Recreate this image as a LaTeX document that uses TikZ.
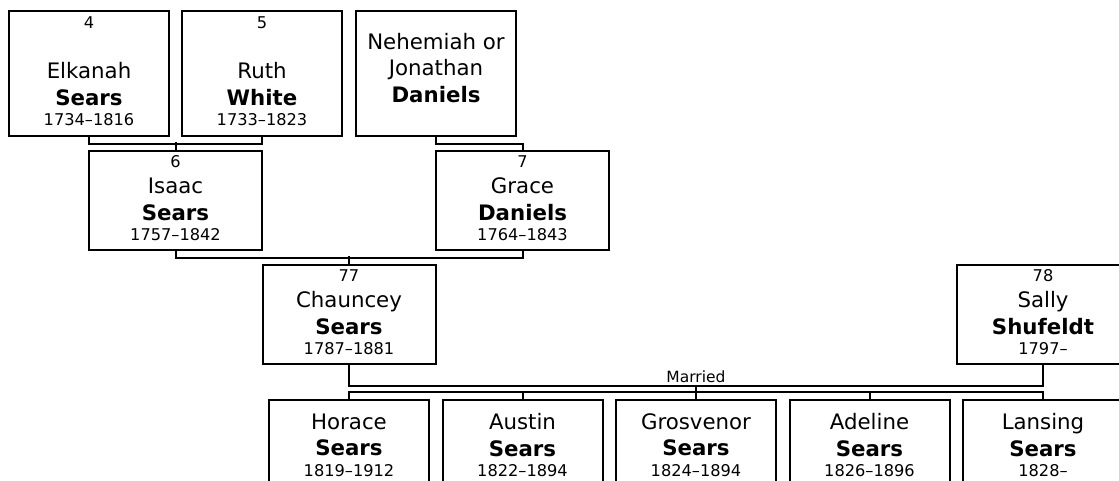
\documentclass[tikz,border=0pt]{standalone}
\usepackage{fontspec}
\setmainfont{DejaVu Sans}
\newcommand{\yrfont}{\fontsize{16.2}{19}\selectfont}

\begin{document}
\begin{tikzpicture}[
    x=1pt, y=-1pt,
    box/.style={
        draw,
        line width=2pt,
        minimum width=160pt,
        minimum height=99pt,
        inner sep=0pt,
        text depth=5pt,
        align=center,
        font=\fontsize{21.3}{26.5}\selectfont
    },
    wide/.style={box, minimum width=173pt},
    tall/.style={box, minimum height=125pt},
    kid/.style={box, text depth=9pt},
    link/.style={line width=2pt}
]
    \useasboundingbox (0,0) rectangle (1119,481);
    \clip (0,0) rectangle (1119,481);

    % great-grandparents
    \node[tall] (elkanah) at (89,73.5)
        {{\yrfont 4}\\[23.8pt]Elkanah\\\textbf{Sears}\\[-6pt]{\yrfont 1734–1816}};
    \node[tall] (ruth) at (262,73.5)
        {{\yrfont 5}\\[23.8pt]Ruth\\\textbf{White}\\[-6pt]{\yrfont 1733–1823}};
    \node[tall, text depth=12pt] (nehemiah) at (436,73.5)
        {Nehemiah or\\Jonathan\\\textbf{Daniels}};

    % grandparents
    \node[wide] (isaac) at (175.5,200.5)
        {{\yrfont 6}\\Isaac\\\textbf{Sears}\\[-6pt]{\yrfont 1757–1842}};
    \node[wide] (grace) at (522.5,200.5)
        {{\yrfont 7}\\Grace\\\textbf{Daniels}\\[-6pt]{\yrfont 1764–1843}};

    % parents
    \node[wide] (chauncey) at (349,314.5)
        {{\yrfont 77}\\Chauncey\\\textbf{Sears}\\[-6pt]{\yrfont 1787–1881}};
    \node[wide] (sally) at (1043,314.5)
        {{\yrfont 78}\\Sally\\\textbf{Shufeldt}\\[-6pt]{\yrfont 1797–}};

    % children
    \node[kid] (horace) at (349,449.5)
        {Horace\\\textbf{Sears}\\[-6pt]{\yrfont 1819–1912}};
    \node[kid] (austin) at (522.5,449.5)
        {Austin\\\textbf{Sears}\\[-6pt]{\yrfont 1822–1894}};
    \node[kid] (grosvenor) at (696,449.5)
        {Grosvenor\\\textbf{Sears}\\[-6pt]{\yrfont 1824–1894}};
    \node[kid] (adeline) at (869.5,449.5)
        {Adeline\\\textbf{Sears}\\[-6pt]{\yrfont 1826–1896}};
    \node[kid] (lansing) at (1043,449.5)
        {Lansing\\\textbf{Sears}\\[-6pt]{\yrfont 1828–}};

    % parent links
    \draw[link] (elkanah.south) -- ++(0,7) -| (ruth.south);
    \draw[link] (isaac.north) -- ++(0,-8);
    \draw[link] (nehemiah.south) -- ++(0,7) -| (grace.north);
    \draw[link] (isaac.south) -- ++(0,7) -| (grace.south);
    \draw[link] (chauncey.north) -- ++(0,-8);

    % marriage and children
    \draw[link] (chauncey.south) -- ++(0,21) coordinate (wedbar) -| (sally.south);
    \coordinate (wed) at (grosvenor.north |- wedbar);
    \node[above, inner sep=3pt, font=\fontsize{15.5}{19}\selectfont] (married) at (wed) {Married};
    \draw[link] (wed) -- (grosvenor.north);
    \draw[link] (horace.north) -- ++(0,-7) -| (lansing.north);
    \foreach \kid in {austin, adeline}
        \draw[link] (\kid.north) -- ++(0,-7);
\end{tikzpicture}
\end{document}
